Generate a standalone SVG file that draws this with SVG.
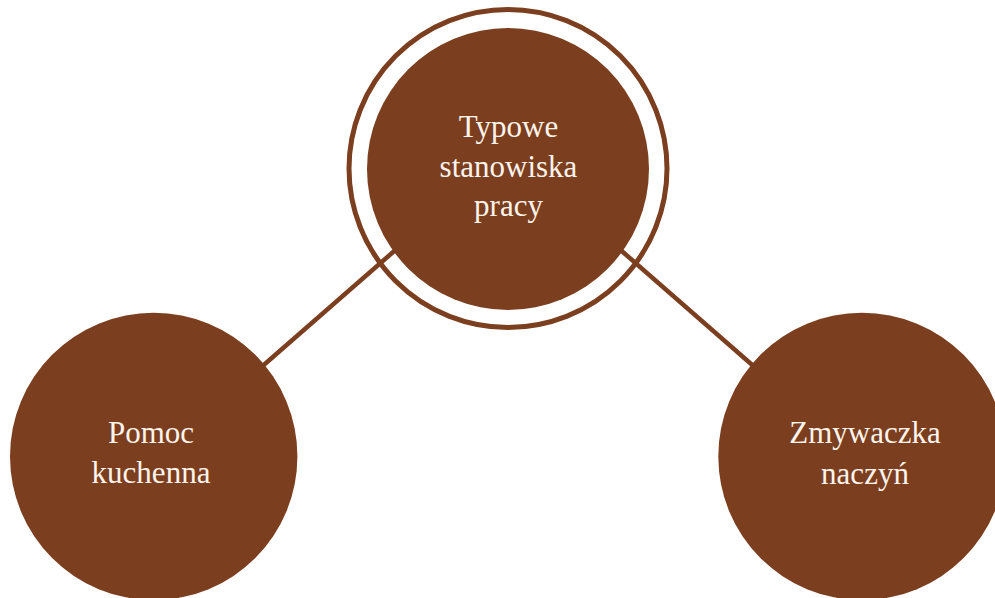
<svg xmlns="http://www.w3.org/2000/svg" width="995" height="598" viewBox="0 0 995 598">
<style>
.node{fill:#7B3E1E}
.ring{fill:none;stroke:#7B3E1E;stroke-width:5}
.conn{stroke:#7B3E1E;stroke-width:4.5;fill:none}
.lbl{font-family:"Liberation Serif","DejaVu Serif",serif;font-size:31px;fill:#FBF4EC;text-anchor:middle}
</style>
<rect width="995" height="598" fill="#FFFFFF"/>
<g id="connectors">
<line class="conn" x1="400" y1="246" x2="258" y2="370"/>
<line class="conn" x1="616" y1="246" x2="758" y2="370"/>
</g>
<g id="center">
<circle class="ring" cx="508" cy="168.5" r="159"/>
<circle class="node" cx="508" cy="169" r="141"/>
<text class="lbl" x="508.5" y="137">Typowe</text>
<text class="lbl" x="508.5" y="177">stanowiska</text>
<text class="lbl" x="508.5" y="216">pracy</text>
</g>
<g id="left">
<circle class="node" cx="153.7" cy="456.4" r="143.7"/>
<text class="lbl" x="151" y="443">Pomoc</text>
<text class="lbl" x="151" y="483">kuchenna</text>
</g>
<g id="right">
<circle class="node" cx="862" cy="456.4" r="143.7"/>
<text class="lbl" x="865" y="443">Zmywaczka</text>
<text class="lbl" x="865" y="484">naczyń</text>
</g>
</svg>
